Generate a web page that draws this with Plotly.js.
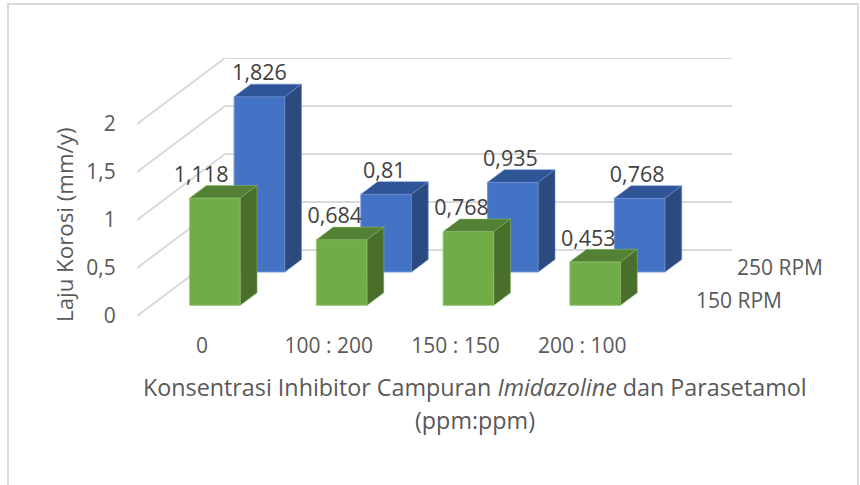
<!DOCTYPE html>
<html><head><meta charset="utf-8">
<script src="https://cdn.plot.ly/plotly-3.0.1.min.js"></script>
<style>html,body{margin:0;padding:0;background:#fff}#c{width:860px;height:485px}</style></head>
<body><div id="c"></div>
<script>
const categories = ['0', '100 : 200', '150 : 150', '200 : 100'];
const seriesNames = ['150 RPM', '250 RPM'];
const rpm150 = [1.118, 0.684, 0.768, 0.453];
const rpm250 = [1.826, 0.81, 0.935, 0.768];
const valueTicks = [0, 0.5, 1, 1.5, 2];
const xTitleLines = ['Konsentrasi Inhibitor Campuran <i>Imidazoline</i> dan Parasetamol', '(ppm:ppm)'];
const yTitle = 'Laju Korosi (mm/y)';

// oblique projection of the Excel 3-D box onto value / category axes
const KX = 88 / 126.7, KY = 66 / 96;       // full depth, in axis units
const BAR_W = 0.4, BAR_D = 0.19, BAR_C = 0.503;
const rows = [
  {vals: rpm250, name: seriesNames[1], d: 0.667, front: '#4472c4', top: '#2f5597', side: '#2a4a80', edge: '#6f93d6', nudge: [0, -0.015, -0.02, -0.02]},
  {vals: rpm150, name: seriesNames[0], d: 0.162, front: '#70ad47', top: '#548235', side: '#4a6f2a', edge: '#93c572', nudge: [-0.11, -0.055, -0.055, -0.055]}
];
const px = (i, d) => i + BAR_C + d * KX;
const py = (v, d) => v + d * KY;

const traces = [];
rows.forEach(r => {
  traces.push({type: 'bar', name: r.name, x: r.vals.map((_, i) => px(i, r.d)), y: r.vals,
    base: r.vals.map(() => py(0, r.d)), width: BAR_W,
    marker: {color: r.front, line: {color: r.edge, width: 1}}, hoverinfo: 'skip'});
});
rows.forEach(r => {
  r.vals.forEach((v, i) => {
    const x0 = px(i, r.d) - BAR_W / 2, x1 = x0 + BAR_W;
    const xb = BAR_D * KX, yb = BAR_D * KY, yt = py(v, r.d), yf = py(0, r.d);
    traces.push({type: 'scatter', mode: 'lines', fill: 'toself', fillcolor: r.top,
      x: [x0, x1, x1 + xb, x0 + xb, x0], y: [yt, yt, yt + yb, yt + yb, yt],
      line: {color: r.edge, width: 0.5}, hoverinfo: 'skip'});
    traces.push({type: 'scatter', mode: 'lines', fill: 'toself', fillcolor: r.side,
      x: [x1, x1 + xb, x1 + xb, x1, x1], y: [yf, yf + yb, yt + yb, yt, yf],
      line: {color: r.edge, width: 0.5}, hoverinfo: 'skip'});
  });
});
const FONT = 'Open Sans, sans-serif';
rows.forEach(r => {
  traces.push({type: 'scatter', mode: 'text',
    x: r.vals.map((_, i) => px(i, r.d) + r.nudge[i]),
    y: r.vals.map(v => py(v, r.d) + 0.225),
    text: r.vals.map(v => String(v).replace('.', ',')),
    textposition: 'middle center', textfont: {family: FONT, size: 21.5, color: '#404040'},
    hoverinfo: 'skip', cliponaxis: false});
});

const maxX = categories.length + KX, maxY = valueTicks[valueTicks.length - 1] + KY;
const grid = {color: '#d9d9d9', width: 2};
const shapes = [];
valueTicks.forEach(v => {
  shapes.push({type: 'line', layer: 'below', xref: 'x', yref: 'y', x0: 0, y0: v, x1: KX, y1: v + KY, line: grid});
  shapes.push({type: 'line', layer: 'below', xref: 'x', yref: 'y', x0: KX, y0: v + KY, x1: maxX, y1: v + KY, line: grid});
});
// chart frame, open at the bottom edge of the page
const W = 860, H = 485, M = {l: 137, r: 128, t: 58, b: 169, pad: 0};
const pw = W - M.l - M.r, ph = H - M.t - M.b;
const paperX = p => (p - M.l) / pw, paperY = p => 1 - (p - M.t) / ph;
shapes.push({type: 'rect', layer: 'below', xref: 'paper', yref: 'paper', x0: paperX(8), x1: paperX(858), y0: paperY(500), y1: paperY(4), line: {color: '#d9d9d9', width: 2}, fillcolor: 'rgba(0,0,0,0)'});

const axisFont = {family: FONT, size: 21, color: '#595959'};
const titleFont = {family: FONT, size: 23.3, color: '#595959'};
const annotations = [
  {text: seriesNames[1], xref: 'x', yref: 'y', x: categories.length + rows[0].d * KX, y: rows[0].d * KY, xanchor: 'left', yanchor: 'middle', xshift: 32.5, yshift: 5, showarrow: false, font: axisFont},
  {text: seriesNames[0], xref: 'x', yref: 'y', x: categories.length + rows[1].d * KX, y: rows[1].d * KY, xanchor: 'left', yanchor: 'middle', xshift: 35.5, yshift: 5, showarrow: false, font: axisFont},
  {text: yTitle, xref: 'paper', yref: 'paper', x: paperX(64), y: paperY(225), xanchor: 'center', yanchor: 'middle', textangle: -90, showarrow: false, font: {family: FONT, size: 22.3, color: '#595959'}},
  {text: xTitleLines[0], xref: 'paper', yref: 'paper', x: paperX(475), y: paperY(387), xanchor: 'center', yanchor: 'middle', showarrow: false, font: titleFont},
  {text: xTitleLines[1], xref: 'paper', yref: 'paper', x: paperX(475), y: paperY(420), xanchor: 'center', yanchor: 'middle', showarrow: false, font: titleFont}
];

const layout = {
  width: W, height: H, showlegend: false, barmode: 'overlay',
  paper_bgcolor: '#fff', plot_bgcolor: 'rgba(0,0,0,0)', margin: M,
  xaxis: {range: [0, maxX], tickmode: 'array', tickvals: categories.map((_, i) => i + 0.513), ticktext: categories,
    showgrid: false, zeroline: false, showline: false, ticks: 'outside', ticklen: 11, tickcolor: 'rgba(0,0,0,0)', tickfont: axisFont},
  yaxis: {range: [0, maxY], tickmode: 'array', tickvals: valueTicks, ticktext: valueTicks.map(v => String(v).replace('.', ',')),
    showgrid: false, zeroline: false, showline: false, ticks: 'outside', ticklen: 16, tickcolor: 'rgba(0,0,0,0)', tickfont: axisFont},
  shapes, annotations
};
Plotly.newPlot('c', traces, layout, {staticPlot: true, displayModeBar: false});
</script></body></html>
